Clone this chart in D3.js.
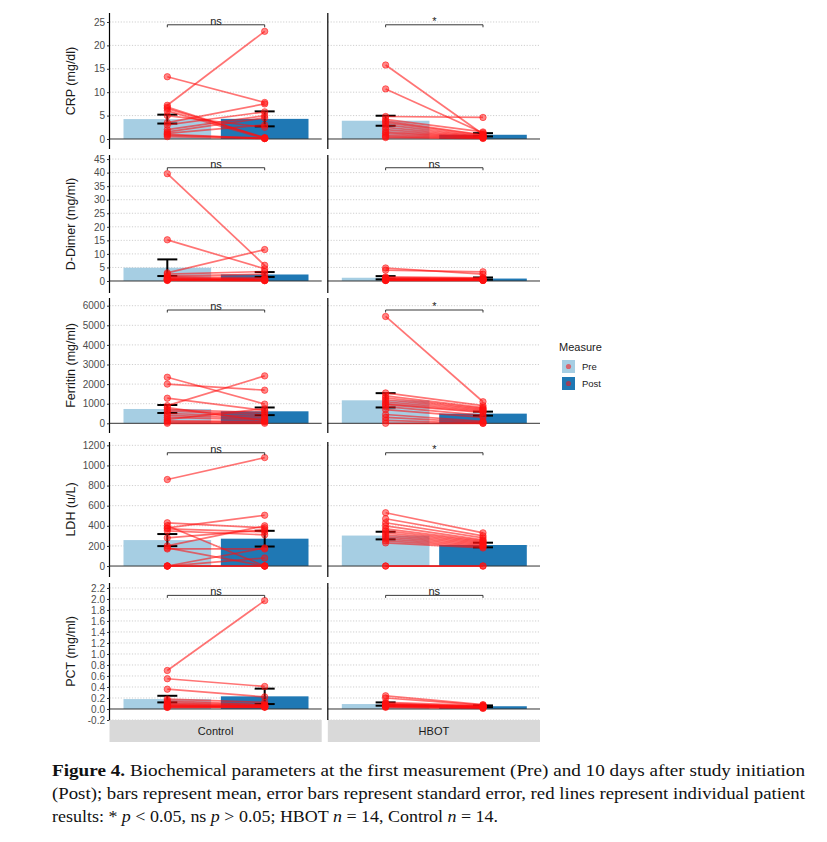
<!DOCTYPE html>
<meta charset="utf-8">
<script src="https://d3js.org/d3.v7.min.js"></script>
<style>
  body { margin: 0; background: #fff; }
  svg { font-family: "Liberation Sans", Arial, sans-serif; }
</style>
<div id="chart"></div>
<script>

// facets and fill groups
var groups = ["Control", "HBOT"];
var phases = ["Pre", "Post"];
var measureLabels = ["CRP (mg/dl)", "D-Dimer (mg/ml)", "Ferritin (mg/ml)", "LDH (u/L)", "PCT (mg/ml)"];

// individual patients (Pre[i] is paired with Post[i])
var crpControlPre  = [13.3, 7.2, 6.8, 6.5, 6.0, 5.0, 3.5, 3.0, 2.0, 1.5, 1.2, 1.0, 0.8, 0.5];
var crpControlPost = [7.8, 23.0, 0.2, 0.3, 0.1, 2.5, 7.5, 5.8, 5.0, 4.5, 3.0, 0.1, 0.2, 0.1];
var crpHbotPre     = [15.8, 10.7, 4.8, 4.2, 3.8, 3.5, 3.0, 2.5, 2.0, 1.5, 1.2, 0.8, 0.5, 0.3];
var crpHbotPost    = [1.0, 1.3, 4.6, 1.5, 0.9, 0.8, 0.6, 0.5, 0.4, 0.4, 0.3, 0.3, 0.2, 0.1];

var ddControlPre  = [39.6, 15.2, 3.0, 2.5, 1.8, 1.5, 1.2, 1.0, 0.8, 0.6, 0.5, 0.4, 0.3, 0.2];
var ddControlPost = [5.8, 4.5, 11.6, 3.5, 2.5, 1.2, 0.8, 0.6, 0.5, 0.4, 0.3, 0.2, 0.2, 0.1];
var ddHbotPre     = [4.8, 4.0, 1.5, 1.2, 1.0, 0.8, 0.6, 0.5, 0.4, 0.4, 0.3, 0.3, 0.2, 0.2];
var ddHbotPost    = [2.5, 3.4, 1.2, 1.0, 0.8, 0.7, 0.6, 0.5, 0.5, 0.4, 0.3, 0.3, 0.2, 0.2];

var ferControlPre  = [2350, 2000, 1280, 900, 800, 700, 620, 500, 400, 300, 200, 120, 60, 0];
var ferControlPost = [980, 1690, 650, 2420, 130, 550, 450, 350, 250, 180, 750, 100, 60, 0];
var ferHbotPre     = [5450, 1550, 1400, 1300, 1200, 1100, 1000, 950, 850, 700, 450, 300, 150, 0];
var ferHbotPost    = [1100, 900, 800, 750, 700, 650, 600, 550, 400, 300, 100, 50, 0, 0];

var ldhControlPre  = [860, 430, 400, 380, 370, 350, 280, 200, 180, 170, 0, 0, 0, 0];
var ldhControlPost = [1078, 380, 0, 505, 340, 310, 360, 400, 0, 170, 180, 80, 0, 0];
var ldhHbotPre     = [530, 470, 430, 400, 370, 350, 330, 310, 290, 270, 250, 230, 0, 0];
var ldhHbotPost    = [330, 300, 280, 260, 250, 240, 230, 220, 210, 200, 190, 180, 0, 0];

var pctControlPre  = [0.70, 0.55, 0.36, 0.18, 0.15, 0.12, 0.10, 0.08, 0.07, 0.06, 0.05, 0.04, 0.03, 0.03];
var pctControlPost = [1.97, 0.41, 0.22, 0.12, 0.08, 0.07, 0.06, 0.05, 0.05, 0.04, 0.04, 0.04, 0.04, 0.03];
var pctHbotPre     = [0.24, 0.20, 0.12, 0.10, 0.09, 0.08, 0.07, 0.07, 0.06, 0.06, 0.05, 0.05, 0.04, 0.03];
var pctHbotPost    = [0.08, 0.07, 0.06, 0.05, 0.05, 0.04, 0.04, 0.04, 0.04, 0.03, 0.03, 0.03, 0.02, 0.01];

// bar means and standard errors: [Control Pre, Control Post, HBOT Pre, HBOT Post]
var crpMean = [4.25, 4.3, 3.9, 0.9];     var crpSE = [0.95, 1.6, 1.07, 0.35];
var ddMean  = [4.9, 2.4, 1.2, 0.9];      var ddSE  = [3.07, 0.9, 0.6, 0.4];
var ferMean = [731, 612, 1173, 493];     var ferSE = [204, 195, 365, 102];
var ldhMean = [258, 272, 303, 209];      var ldhSE = [60, 78, 38, 23];
var pctMean = [0.18, 0.23, 0.09, 0.05];  var pctSE = [0.06, 0.14, 0.03, 0.015];

// significance labels per facet and bracket height
var crpSig = ["ns", "*"];  var crpBracket = 24.4;
var ddSig  = ["ns", "ns"]; var ddBracket  = 41.8;
var ferSig = ["ns", "*"];  var ferBracket = 5780;
var ldhSig = ["ns", "*"];  var ldhBracket = 1126;
var pctSig = ["ns", "ns"]; var pctBracket = 2.065;

// y axis ticks and limits
var crpTicks = [0, 5, 10, 15, 20, 25];
var ddTicks  = [0, 5, 10, 15, 20, 25, 30, 35, 40, 45];
var ferTicks = [0, 1000, 2000, 3000, 4000, 5000, 6000];
var ldhTicks = [0, 200, 400, 600, 800, 1000, 1200];
var pctTicks = [-0.2, 0, 0.2, 0.4, 0.6, 0.8, 1.0, 1.2, 1.4, 1.6, 1.8, 2.0, 2.2];
var crpDomain = [-2.14, 26.92];
var ddDomain  = [-4.43, 46.5];
var ferDomain = [-495, 6393];
var ldhDomain = [-109, 1233];
var pctDomain = [-0.2, 2.29];

var rows = [
  {label: measureLabels[0], ticks: crpTicks, domain: crpDomain, mean: crpMean, se: crpSE, sig: crpSig, bracket: crpBracket,
   values: [[crpControlPre, crpControlPost], [crpHbotPre, crpHbotPost]], fmt: function(d) { return d; }},
  {label: measureLabels[1], ticks: ddTicks, domain: ddDomain, mean: ddMean, se: ddSE, sig: ddSig, bracket: ddBracket,
   values: [[ddControlPre, ddControlPost], [ddHbotPre, ddHbotPost]], fmt: function(d) { return d; }},
  {label: measureLabels[2], ticks: ferTicks, domain: ferDomain, mean: ferMean, se: ferSE, sig: ferSig, bracket: ferBracket,
   values: [[ferControlPre, ferControlPost], [ferHbotPre, ferHbotPost]], fmt: function(d) { return d; }},
  {label: measureLabels[3], ticks: ldhTicks, domain: ldhDomain, mean: ldhMean, se: ldhSE, sig: ldhSig, bracket: ldhBracket,
   values: [[ldhControlPre, ldhControlPost], [ldhHbotPre, ldhHbotPost]], fmt: function(d) { return d; }},
  {label: measureLabels[4], ticks: pctTicks, domain: pctDomain, mean: pctMean, se: pctSE, sig: pctSig, bracket: pctBracket,
   values: [[pctControlPre, pctControlPost], [pctHbotPre, pctHbotPost]], fmt: function(d) { return d.toFixed(1); }}
];

// layout
var rowTop    = [13, 155, 298, 442, 583];
var rowBottom = [149, 293, 433, 577, 720];
var fillColor = {Pre: "#a6cee3", Post: "#1f78b4"};
var red = "#ff1010";

var svg = d3.select("#chart").append("svg")
    .attr("width", 827)
    .attr("height", 842);

var panelX = d3.scaleBand().domain(groups).range([109.5, 540]).paddingInner(0.028);
var barX = d3.scaleBand().domain(phases).range([14, 199]).paddingInner(0.1);
function cx(g, p) { return panelX(g) + barX(p) + barX.bandwidth() / 2; }

rows.forEach(function(row, r) {
  var y = d3.scaleLinear().domain(row.domain).range([rowBottom[r], rowTop[r]]);
  var g = svg.append("g");

  groups.forEach(function(grp, gi) {
    var x0 = panelX(grp), x1 = x0 + panelX.bandwidth();

    // dotted grid
    g.selectAll(null)
      .data(row.ticks.filter(function(t) { return t !== 0 && y(t) > rowTop[r]; }))
      .enter().append("line")
        .attr("x1", x0).attr("x2", x1)
        .attr("y1", function(d) { return y(d); })
        .attr("y2", function(d) { return y(d); })
        .attr("stroke", "#cfcfcf")
        .attr("stroke-dasharray", "1.2,1.6");

    // bars
    g.selectAll(null)
      .data(phases)
      .enter().append("rect")
        .attr("x", function(p) { return x0 + barX(p); })
        .attr("width", barX.bandwidth())
        .attr("y", function(p, pi) { return y(row.mean[gi * 2 + pi]); })
        .attr("height", function(p, pi) { return y(0) - y(row.mean[gi * 2 + pi]); })
        .attr("fill", function(p) { return fillColor[p]; });

    // zero line
    g.append("line")
      .attr("x1", x0).attr("x2", x1)
      .attr("y1", y(0)).attr("y2", y(0))
      .attr("stroke", "#333").attr("stroke-width", 1);

    // error bars
    phases.forEach(function(p, pi) {
      var m = row.mean[gi * 2 + pi], s = row.se[gi * 2 + pi], c = cx(grp, p);
      var eb = g.append("g").attr("stroke", "#000").attr("stroke-width", 2);
      eb.append("line").attr("x1", c).attr("x2", c).attr("y1", y(m - s)).attr("y2", y(m + s));
      eb.append("line").attr("x1", c - 10).attr("x2", c + 10).attr("y1", y(m - s)).attr("y2", y(m - s));
      eb.append("line").attr("x1", c - 10).attr("x2", c + 10).attr("y1", y(m + s)).attr("y2", y(m + s));
    });

    // patient lines
    var pre = row.values[gi][0], post = row.values[gi][1];
    g.selectAll(null)
      .data(d3.range(pre.length))
      .enter().append("line")
        .attr("x1", cx(grp, "Pre")).attr("x2", cx(grp, "Post"))
        .attr("y1", function(i) { return y(pre[i]); })
        .attr("y2", function(i) { return y(post[i]); })
        .attr("stroke", red).attr("stroke-opacity", 0.58).attr("stroke-width", 1.7);

    // patient points
    phases.forEach(function(p, pi) {
      g.selectAll(null)
        .data(row.values[gi][pi])
        .enter().append("circle")
          .attr("cx", cx(grp, p))
          .attr("cy", function(d) { return y(d); })
          .attr("r", 3.2)
          .attr("fill", red).attr("fill-opacity", 0.5)
          .attr("stroke", red).attr("stroke-opacity", 0.55);
    });

    // panel axis line
    g.append("line")
      .attr("x1", x0).attr("x2", x0)
      .attr("y1", rowTop[r]).attr("y2", rowBottom[r])
      .attr("stroke", "#000").attr("stroke-width", 1.2);

    // significance bracket
    var bx0 = cx(grp, "Pre"), bx1 = cx(grp, "Post"), by = y(row.bracket);
    g.append("path")
      .attr("d", "M" + bx0 + "," + (by + 2.5) + "V" + by + "H" + bx1 + "V" + (by + 2.5))
      .attr("fill", "none").attr("stroke", "#222").attr("stroke-width", 0.9);
    g.append("text")
      .attr("x", (bx0 + bx1) / 2).attr("y", by)
      .attr("text-anchor", "middle")
      .attr("font-size", 11).attr("fill", "#222")
      .text(row.sig[gi]);
  });

  // left axis labels
  var axis = g.append("g")
    .attr("transform", "translate(" + panelX("Control") + ",0)")
    .call(d3.axisLeft(y).tickValues(row.ticks).tickSize(2.5).tickPadding(2).tickFormat(row.fmt));
  axis.select(".domain").remove();
  axis.selectAll(".tick line").attr("stroke", "#333");
  axis.selectAll(".tick text")
    .attr("fill", "#4d4d4d")
    .style("font-size", "10px")
    .style("font-family", "'Liberation Sans', Arial, sans-serif");

  // axis title
  g.append("text")
    .attr("transform", "translate(75," + (rowTop[r] + rowBottom[r]) / 2 + ") rotate(-90)")
    .attr("text-anchor", "middle")
    .attr("font-size", 12.5).attr("fill", "#1a1a1a")
    .text(row.label);
});

// facet strips at the bottom
groups.forEach(function(grp) {
  svg.append("rect")
    .attr("x", panelX(grp)).attr("y", 720)
    .attr("width", panelX.bandwidth()).attr("height", 22)
    .attr("fill", "#d9d9d9");
  svg.append("text")
    .attr("x", panelX(grp) + panelX.bandwidth() / 2).attr("y", 735)
    .attr("text-anchor", "middle")
    .attr("font-size", 11).attr("fill", "#1a1a1a")
    .text(grp);
});

// legend
var legend = svg.append("g").attr("transform", "translate(559,0)");
legend.append("text").attr("x", 0).attr("y", 351).attr("font-size", 11).attr("fill", "#1a1a1a").text("Measure");
phases.forEach(function(p, i) {
  var ky = 360 + i * 17;
  legend.append("rect").attr("x", 3).attr("y", ky).attr("width", 13).attr("height", 13).attr("fill", fillColor[p]);
  legend.append("circle").attr("cx", 9.5).attr("cy", ky + 6.5).attr("r", 2.6)
    .attr("fill", red).attr("fill-opacity", 0.55);
  legend.append("text").attr("x", 23).attr("y", ky + 10).attr("font-size", 9.5).attr("fill", "#1a1a1a").text(p);
});

// caption
var serif = "'Liberation Serif', 'Times New Roman', serif";
function capLine(yPos, len) {
  return svg.append("text")
    .attr("x", 52).attr("y", yPos)
    .attr("textLength", len).attr("lengthAdjust", "spacingAndGlyphs")
    .style("font-family", serif)
    .style("font-size", "16.5px")
    .attr("fill", "#111");
}
var l1 = capLine(776, 753);
l1.append("tspan").attr("font-weight", "bold").text("Figure 4.");
l1.append("tspan").text(" Biochemical parameters at the first measurement (Pre) and 10 days after study initiation");
capLine(799, 753).text("(Post); bars represent mean, error bars represent standard error, red lines represent individual patient");
var l3 = capLine(822, 446);
[["results: * ", false], ["p", true], [" < 0.05, ns ", false], ["p", true], [" > 0.05; HBOT ", false],
 ["n", true], [" = 14, Control ", false], ["n", true], [" = 14.", false]].forEach(function(s) {
  l3.append("tspan").attr("font-style", s[1] ? "italic" : null).text(s[0]);
});

</script>
